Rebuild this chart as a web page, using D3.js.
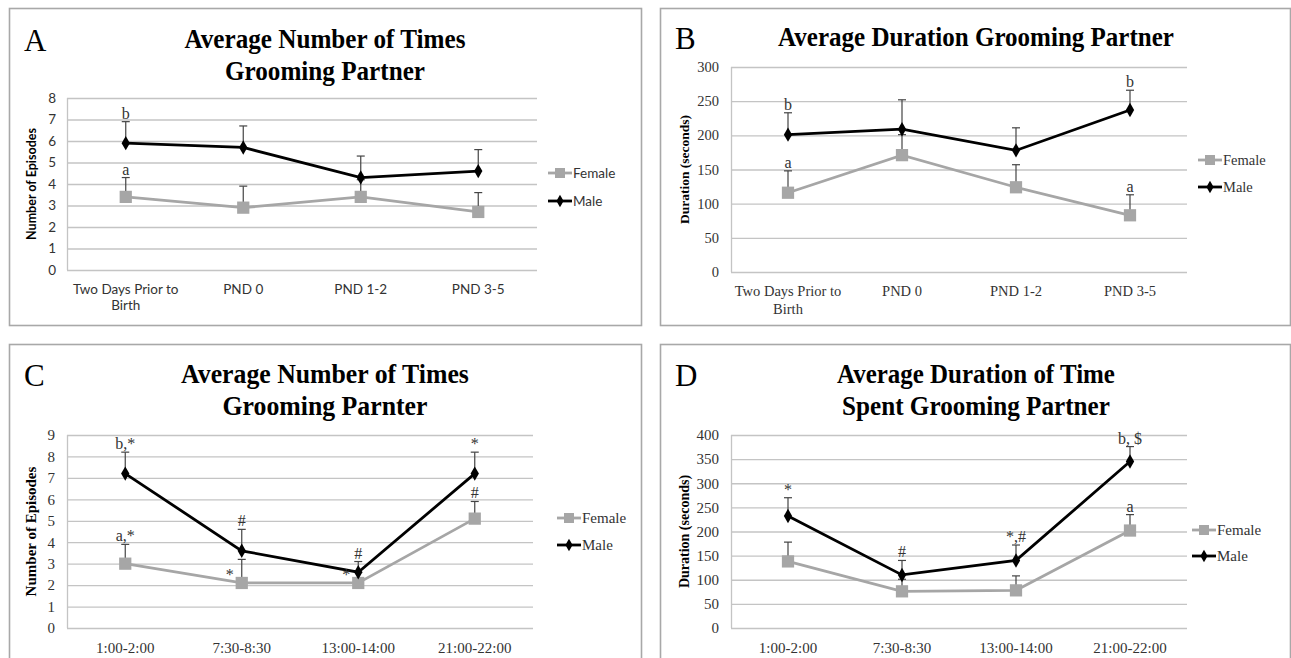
<!DOCTYPE html>
<html><head><meta charset="utf-8">
<script src="https://cdn.jsdelivr.net/npm/d3@7/dist/d3.min.js"></script>
<style>body{margin:0;background:#fff}svg{display:block}</style>
</head><body>
<svg id="c" width="1291" height="658"></svg>
<script>
// ---------- data ----------
const catsAB = ["Two Days Prior to|Birth", "PND 0", "PND 1-2", "PND 3-5"];
const catsCD = ["1:00-2:00", "7:30-8:30", "13:00-14:00", "21:00-22:00"];
const seriesNames = ["Female", "Male"];

const femaleA = [3.4, 2.9, 3.4, 2.7];
const femaleAErr = [0.9, 1.0, 0.8, 0.9];
const maleA = [5.9, 5.7, 4.3, 4.6];
const maleAErr = [1.0, 1.0, 1.0, 1.0];
const ticksA = [0, 1, 2, 3, 4, 5, 6, 7, 8];
const notesA = [{s: "Male", i: 0, t: "b"}, {s: "Female", i: 0, t: "a"}];

const femaleB = [116, 171, 124, 83];
const femaleBErr = [32, 30, 33, 30];
const maleB = [201, 209, 178, 237];
const maleBErr = [32, 43, 33, 29];
const ticksB = [0, 50, 100, 150, 200, 250, 300];
const notesB = [{s: "Male", i: 0, t: "b"}, {s: "Female", i: 0, t: "a"},
                {s: "Male", i: 3, t: "b"}, {s: "Female", i: 3, t: "a"}];

const femaleC = [3.0, 2.1, 2.1, 5.1];
const femaleCErr = [0.9, 1.1, 0.5, 0.8];
const maleC = [7.2, 3.6, 2.6, 7.2];
const maleCErr = [1.0, 1.0, 0.5, 1.0];
const ticksC = [0, 1, 2, 3, 4, 5, 6, 7, 8, 9];
const notesC = [{s: "Male", i: 0, t: "b,*"}, {s: "Female", i: 0, t: "a,*"},
                {s: "Male", i: 1, t: "#"}, {s: "Female", i: 1, t: "*", side: "left"},
                {s: "Male", i: 2, t: "#"}, {s: "Female", i: 2, t: "*", side: "left"},
                {s: "Male", i: 3, t: "*"}, {s: "Female", i: 3, t: "#"}];

const femaleD = [138, 76, 78, 202];
const femaleDErr = [40, 25, 30, 33];
const maleD = [232, 110, 140, 345];
const maleDErr = [38, 30, 32, 31];
const ticksD = [0, 50, 100, 150, 200, 250, 300, 350, 400];
const notesD = [{s: "Male", i: 0, t: "*"}, {s: "Male", i: 1, t: "#"},
                {s: "Male", i: 2, t: "*,#"}, {s: "Male", i: 3, t: "b, $"},
                {s: "Female", i: 3, t: "a"}];

// ---------- drawing ----------
const svg = d3.select("#c");
const SERIF = "'Liberation Serif','Times New Roman',serif";
const SANS = "Lato,'Open Sans',sans-serif";
const colors = {Female: "#a6a6a6", Male: "#000000"};

const panels = [
  {letter: "A", box: [9, 8, 641, 325], plot: [67, 98, 537, 270], cats: catsAB, ticks: ticksA,
   female: femaleA, femaleErr: femaleAErr, male: maleA, maleErr: maleAErr, notes: notesA,
   title: ["Average Number of Times", "Grooming Partner"], titleW: [281, 200], titleY: [48, 80], titleX: 325,
   ytitle: "Number of Episodes", yFont: SANS, yTitleSize: 12.5, tickFont: SANS, tickSize: 13.5, tickX: 56,
   legX: 548, legY: [173, 201], legFont: SANS, ytitleX: 36},
  {letter: "B", box: [660, 8, 1290, 325], plot: [731, 67, 1187, 272], cats: catsAB, ticks: ticksB,
   female: femaleB, femaleErr: femaleBErr, male: maleB, maleErr: maleBErr, notes: notesB,
   title: ["Average Duration Grooming Partner"], titleW: [396], titleY: [46], titleX: 976,
   ytitle: "Duration (seconds)", yFont: SERIF, yTitleSize: 13.5, tickFont: SERIF, tickSize: 14.5, tickX: 719,
   legX: 1198, legY: [160, 187], legFont: SERIF, ytitleX: 689},
  {letter: "C", box: [9, 344, 641, 670], plot: [67, 435, 533, 628], cats: catsCD, ticks: ticksC,
   female: femaleC, femaleErr: femaleCErr, male: maleC, maleErr: maleCErr, notes: notesC,
   title: ["Average Number of Times", "Grooming Parnter"], titleW: [288, 205], titleY: [383, 415], titleX: 325,
   ytitle: "Number of Episodes", yFont: SERIF, yTitleSize: 15, tickFont: SERIF, tickSize: 15, tickX: 55,
   legX: 557, legY: [518, 545], legFont: SERIF, ytitleX: 36},
  {letter: "D", box: [660, 344, 1290, 670], plot: [731, 435, 1187, 628], cats: catsCD, ticks: ticksD,
   female: femaleD, femaleErr: femaleDErr, male: maleD, maleErr: maleDErr, notes: notesD,
   title: ["Average Duration of Time", "Spent Grooming Partner"], titleW: [278, 268], titleY: [383, 415], titleX: 976,
   ytitle: "Duration (seconds)", yFont: SERIF, yTitleSize: 14, tickFont: SERIF, tickSize: 15, tickX: 719,
   legX: 1192, legY: [530, 556], legFont: SERIF, ytitleX: 689}
];

function fitText(sel, w) {
  const n = sel.node();
  const len = n.getComputedTextLength();
  const x = +sel.attr("x"), y = +sel.attr("y");
  const k = w / len;
  sel.attr("transform", `translate(${x},${y}) scale(${k},1) translate(${-x},${-y})`);
}

panels.forEach(p => {
  const g = svg.append("g");
  const [bx0, by0, bx1, by1] = p.box;
  g.append("rect").attr("x", bx0 + 0.5).attr("y", by0 + 0.5)
    .attr("width", bx1 - bx0).attr("height", by1 - by0)
    .attr("fill", "#fff").attr("stroke", "#a8a8a8").attr("stroke-width", 1.6);

  g.append("text").attr("x", bx0 + 15).attr("y", p.titleY[0] + 3)
    .attr("font-family", SERIF).attr("font-size", 31).attr("fill", "#000").text(p.letter);

  p.title.forEach((t, k) => {
    const tt = g.append("text").attr("x", p.titleX).attr("y", p.titleY[k])
      .attr("text-anchor", "middle").attr("font-family", SERIF).attr("font-weight", "bold")
      .attr("font-size", 28).attr("fill", "#000").text(t);
    fitText(tt, p.titleW[k]);
  });

  const [px0, py0, px1, py1] = p.plot;
  const x = d3.scaleBand().domain(p.cats).range([px0, px1]);
  const y = d3.scaleLinear().domain([p.ticks[0], p.ticks[p.ticks.length - 1]]).range([py1, py0]);
  const cx = c => x(c) + x.bandwidth() / 2;

  // grid
  const ax = g.append("g").attr("transform", `translate(${px0},0)`)
    .call(d3.axisLeft(y).tickValues(p.ticks).tickSize(-(px1 - px0)).tickPadding(px0 - p.tickX));
  ax.select(".domain").remove();
  ax.selectAll(".tick line").attr("stroke", "#c4c4c4").attr("stroke-width", 1.3);
  ax.selectAll(".tick text").attr("font-family", p.tickFont).attr("font-size", p.tickSize).attr("fill", "#333");
  g.append("line").attr("x1", px0 + 0.5).attr("x2", px0 + 0.5).attr("y1", py0).attr("y2", py1)
    .attr("stroke", "#c4c4c4").attr("stroke-width", 1.3);

  // category labels
  const xa = g.append("g").attr("transform", `translate(0,${py1})`)
    .call(d3.axisBottom(x).tickSize(0).tickPadding(14));
  xa.select(".domain").remove();
  xa.selectAll(".tick text").attr("font-family", p.tickFont).attr("font-size", p.tickSize).attr("fill", "#333")
    .each(function(d) {
      const parts = d.split("|");
      const t = d3.select(this).text(null);
      parts.forEach((s, k) => t.append("tspan").attr("x", 0).attr("dy", k === 0 ? "0.71em" : "1.2em").text(s));
    });

  // y title
  g.append("text").attr("transform", `translate(${p.ytitleX},${(py0 + py1) / 2}) rotate(-90)`)
    .attr("text-anchor", "middle").attr("font-family", p.yFont).attr("font-weight", "bold")
    .attr("font-size", p.yTitleSize).attr("fill", "#000").text(p.ytitle);

  const series = [
    {name: "Female", vals: p.female, err: p.femaleErr},
    {name: "Male", vals: p.male, err: p.maleErr}
  ];

  // error bars
  series.forEach(s => {
    s.vals.forEach((v, i) => {
      const X = cx(p.cats[i]), top = y(v + s.err[i]);
      g.append("line").attr("x1", X).attr("x2", X).attr("y1", y(v)).attr("y2", top)
        .attr("stroke", "#444").attr("stroke-width", 1.2);
      g.append("line").attr("x1", X - 4).attr("x2", X + 4).attr("y1", top).attr("y2", top)
        .attr("stroke", "#444").attr("stroke-width", 1.2);
    });
  });

  const line = d3.line().x((v, i) => cx(p.cats[i])).y(v => y(v));
  series.forEach(s => {
    g.append("path").attr("d", line(s.vals)).attr("fill", "none")
      .attr("stroke", colors[s.name]).attr("stroke-width", 2.8);
    const sym = s.name === "Male" ? d3.symbol(d3.symbolDiamond, 60) : d3.symbol(d3.symbolSquare, 150);
    s.vals.forEach((v, i) => {
      g.append("path").attr("d", sym()).attr("transform", `translate(${cx(p.cats[i])},${y(v)})`)
        .attr("fill", colors[s.name]);
    });
  });

  // annotations
  p.notes.forEach(n => {
    const s = series.find(d => d.name === n.s);
    const v = s.vals[n.i];
    const X = cx(p.cats[n.i]);
    let tx = X, ty = y(v + s.err[n.i]) - 3, anchor = "middle";
    if (n.side === "left") { tx = X - 8; ty = y(v) - 3; anchor = "end"; }
    g.append("text").attr("x", tx).attr("y", ty).attr("text-anchor", anchor)
      .attr("font-family", SERIF).attr("font-size", 16).attr("fill", "#333").text(n.t);
  });

  // legend
  seriesNames.forEach((nm, k) => {
    const ly = p.legY[k];
    g.append("line").attr("x1", p.legX).attr("x2", p.legX + 24).attr("y1", ly).attr("y2", ly)
      .attr("stroke", colors[nm]).attr("stroke-width", 2.8);
    const sym = nm === "Male" ? d3.symbol(d3.symbolDiamond, 45) : d3.symbol(d3.symbolSquare, 100);
    g.append("path").attr("d", sym()).attr("transform", `translate(${p.legX + 12},${ly})`).attr("fill", colors[nm]);
    g.append("text").attr("x", p.legX + 25).attr("y", ly).attr("dy", "0.35em")
      .attr("font-family", p.legFont).attr("font-size", p.tickSize).attr("fill", "#333").text(nm);
  });
});
</script>
</body></html>
